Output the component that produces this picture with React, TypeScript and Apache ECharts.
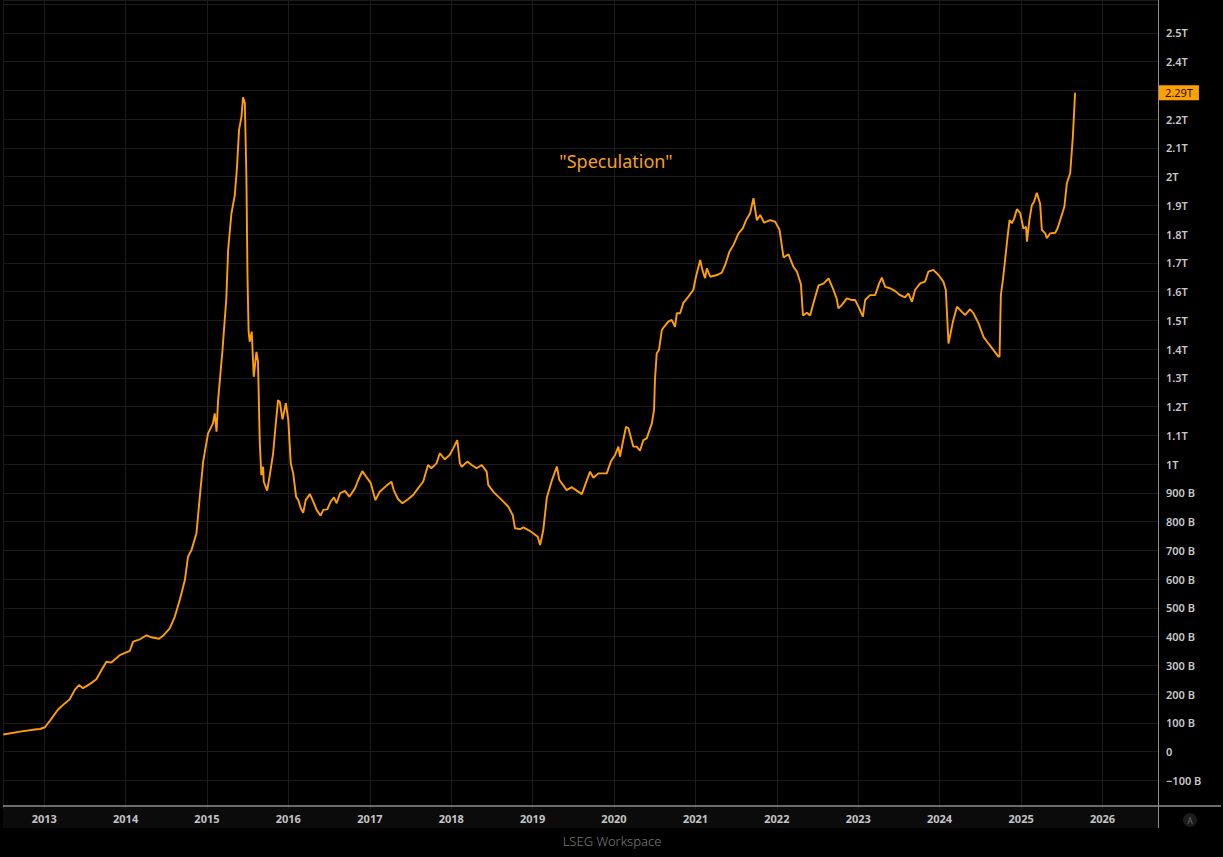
import React, { useEffect, useRef } from "react";
import * as echarts from "echarts";

const dates: string[] = [
  "2012-07-01","2012-09-14","2012-11-28","2012-12-13","2013-01-04","2013-01-27","2013-03-04","2013-04-03","2013-04-25","2013-05-18",
  "2013-06-06","2013-06-24","2013-07-24","2013-08-23","2013-09-15","2013-10-07","2013-10-29","2013-12-06","2014-01-20","2014-02-04",
  "2014-03-06","2014-04-05","2014-04-27","2014-05-31","2014-06-18","2014-07-18","2014-08-10","2014-09-01","2014-09-24","2014-10-08",
  "2014-10-24","2014-11-15","2014-11-30","2014-12-15","2015-01-06","2015-01-28","2015-02-05","2015-02-13","2015-02-20","2015-03-11",
  "2015-03-29","2015-04-06","2015-04-21","2015-05-06","2015-05-16","2015-05-25","2015-06-05","2015-06-12","2015-06-20","2015-06-27",
  "2015-07-02","2015-07-04","2015-07-07","2015-07-12","2015-07-21","2015-07-30","2015-08-11","2015-08-18","2015-08-26","2015-09-02",
  "2015-09-10","2015-09-13","2015-09-28","2015-10-10","2015-10-25","2015-11-06","2015-11-16","2015-11-24","2015-12-06","2015-12-21",
  "2016-01-01","2016-01-12","2016-01-23","2016-02-05","2016-02-15","2016-02-26","2016-03-08","2016-03-19","2016-04-07","2016-04-22",
  "2016-05-07","2016-05-25","2016-06-06","2016-06-24","2016-07-09","2016-07-24","2016-08-05","2016-08-20","2016-09-11","2016-10-01",
  "2016-10-26","2016-11-10","2016-11-28","2016-12-15","2017-01-04","2017-01-26","2017-02-14","2017-03-12","2017-03-24","2017-04-08",
  "2017-04-18","2017-05-07","2017-05-27","2017-06-21","2017-07-14","2017-08-05","2017-08-28","2017-09-19","2017-10-04","2017-10-27",
  "2017-11-11","2017-12-03","2017-12-25","2018-01-10","2018-01-28","2018-02-09","2018-02-17","2018-03-14","2018-04-03","2018-04-25",
  "2018-05-18","2018-06-09","2018-06-16","2018-07-09","2018-07-31","2018-08-23","2018-09-14","2018-10-04","2018-10-14","2018-11-06",
  "2018-11-21","2018-12-13","2019-01-04","2019-01-24","2019-02-04","2019-02-18","2019-03-06","2019-03-28","2019-04-20","2019-05-01",
  "2019-06-03","2019-06-26","2019-07-18","2019-08-10","2019-08-25","2019-09-16","2019-10-01","2019-10-23","2019-11-30","2019-12-18",
  "2020-01-06","2020-01-21","2020-01-28","2020-02-12","2020-02-24","2020-03-06","2020-03-28","2020-04-12","2020-04-27","2020-05-12",
  "2020-05-27","2020-06-19","2020-06-29","2020-07-03","2020-07-11","2020-07-21","2020-08-03","2020-08-13","2020-09-01","2020-09-16",
  "2020-10-01","2020-10-09","2020-10-24","2020-11-07","2020-11-30","2020-12-22","2021-01-03","2021-01-22","2021-02-01","2021-02-13",
  "2021-02-21","2021-03-08","2021-04-07","2021-04-29","2021-05-14","2021-06-02","2021-06-20","2021-07-13","2021-08-01","2021-08-16",
  "2021-09-03","2021-09-18","2021-10-03","2021-10-18","2021-11-05","2021-12-02","2021-12-24","2022-01-13","2022-01-31","2022-02-22",
  "2022-03-16","2022-04-01","2022-04-19","2022-04-28","2022-05-16","2022-05-30","2022-06-14","2022-07-07","2022-07-29","2022-08-21",
  "2022-09-12","2022-09-27","2022-10-04","2022-10-20","2022-11-11","2022-12-04","2022-12-18","2023-01-02","2023-01-22","2023-02-01",
  "2023-02-23","2023-03-18","2023-04-05","2023-04-17","2023-05-02","2023-05-24","2023-06-16","2023-07-08","2023-07-30","2023-08-14",
  "2023-08-30","2023-09-13","2023-10-06","2023-10-28","2023-11-12","2023-12-04","2023-12-27","2024-01-18","2024-01-29","2024-02-10",
  "2024-03-01","2024-03-19","2024-04-10","2024-04-25","2024-05-17","2024-06-01","2024-06-24","2024-07-16","2024-08-07","2024-08-30",
  "2024-09-21","2024-09-26","2024-10-02","2024-10-11","2024-10-21","2024-11-01","2024-11-10","2024-11-20","2024-12-01","2024-12-13",
  "2024-12-28","2025-01-11","2025-01-23","2025-01-27","2025-02-07","2025-02-18","2025-02-28","2025-03-12","2025-03-27","2025-04-04",
  "2025-04-19","2025-04-26","2025-05-11","2025-06-03","2025-06-13","2025-06-25","2025-07-07","2025-07-14","2025-07-25","2025-08-09",
  "2025-08-21","2025-08-31"
];

// values in billions
const valuesB: number[] = [
  60,70,78,79,85,108,147,168,182,215,
  232,221,235,252,284,313,310,336,351,383,
  391,405,398,393,403,429,470,528,597,678,
  702,760,887,1009,1107,1142,1177,1113,1223,1390,
  1577,1745,1873,1936,2035,2163,2209,2276,2256,2000,
  1652,1571,1461,1426,1461,1304,1391,1357,1078,962,
  991,939,908,962,1038,1142,1223,1217,1156,1212,
  1154,1003,968,887,875,847,831,875,896,870,
  841,821,841,843,870,885,864,899,907,887,
  916,945,976,957,936,875,904,922,930,939,
  910,879,864,878,893,916,939,997,986,1003,
  1038,1017,1032,1055,1084,1003,991,1009,997,986,
  997,974,928,904,887,870,852,823,777,774,
  780,771,760,748,719,771,884,942,992,945,
  910,920,908,896,928,974,953,968,968,1009,
  1032,1061,1026,1084,1130,1125,1061,1061,1047,1084,
  1090,1142,1189,1293,1386,1397,1467,1478,1496,1502,
  1478,1525,1525,1560,1583,1606,1652,1710,1675,1647,
  1681,1652,1658,1666,1693,1739,1762,1803,1820,1849,
  1873,1925,1849,1867,1840,1849,1844,1815,1719,1730,
  1687,1670,1626,1517,1527,1517,1560,1622,1628,1646,
  1606,1574,1542,1554,1577,1571,1571,1548,1513,1571,
  1588,1588,1629,1649,1617,1612,1602,1588,1580,1594,
  1565,1606,1629,1635,1670,1676,1658,1635,1606,1420,
  1496,1548,1530,1519,1539,1525,1490,1443,1420,1397,
  1374,1374,1588,1640,1710,1791,1849,1838,1855,1887,
  1873,1820,1826,1774,1849,1901,1913,1944,1907,1815,
  1803,1786,1803,1805,1820,1849,1878,1896,1977,2012,
  2139,2292
];

const annotation = '"Speculation"';
const footerText = "LSEG Workspace";
const xMin = "2012-06-30";
const xMax = "2026-09-07";
const yMin = -200;
const yMax = 2614.6;
const yStep = 100;

const lastValue = valuesB[valuesB.length - 1];

function fmtY(v: number): string {
  if (v > 2500 || v < -100) return "";
  // the last-value badge covers the tick label next to it
  if (Math.abs(v - lastValue) < 40) return "";
  if (v === 0) return "0";
  if (Math.abs(v) >= 1000) {
    const t = (v / 1000).toFixed(1).replace(/\.0$/, "");
    return t + "T";
  }
  if (v < 0) return "\u2212" + Math.abs(v) + " B";
  return v + " B";
}

export default function App() {
  const ref = useRef<HTMLDivElement>(null);
  useEffect(() => {
    if (!ref.current) return;
    const chart = echarts.init(ref.current, undefined, { renderer: "svg" });
    const seriesData = dates.map((d, i) => [d, valuesB[i]]);
    const nTicks = Math.ceil((yMax - yMin) / yStep) + 2;
    const splitColors = Array.from({ length: nTicks }, (_, i) => (i === 0 ? "rgba(0,0,0,0)" : "#1b1b1b"));
    const year = 365.25 * 24 * 3600 * 1000;
    chart.setOption({
      animation: false,
      backgroundColor: "#000000",
      grid: { left: 3, right: 65, top: 0, height: 809.2, containLabel: false },
      xAxis: {
        type: "time",
        min: xMin,
        max: xMax,
        splitNumber: 14,
        minInterval: year,
        maxInterval: year,
        axisLine: { show: false },
        axisTick: { show: false },
        splitLine: { show: true, lineStyle: { color: "#1b1b1b", width: 1 } },
        axisLabel: {
          color: "#c4c4c4",
          fontSize: 11,
          fontWeight: "bold",
          fontFamily: "Noto Sans",
          margin: 4,
          hideOverlap: false,
          formatter: (val: number) => String(new Date(val).getFullYear()),
        },
      },
      yAxis: {
        type: "value",
        position: "right",
        min: yMin,
        max: yMax,
        interval: yStep,
        axisLine: { show: false },
        axisTick: { show: false },
        splitLine: { show: true, lineStyle: { color: splitColors, width: 1 } },
        axisLabel: {
          color: "#c8c8c8",
          fontSize: 11,
          fontWeight: 600,
          fontFamily: "Noto Sans",
          margin: 8,
          formatter: fmtY,
        },
      },
      series: [
        {
          type: "line",
          data: seriesData,
          showSymbol: false,
          symbol: "none",
          lineStyle: { color: "#FFA000", width: 1.9 },
          itemStyle: { color: "#FFA000" },
          z: 3,
          markLine: {
            silent: true,
            symbol: "none",
            animation: false,
            lineStyle: { color: "rgba(0,0,0,0)", width: 0, type: "solid" },
            data: [{ yAxis: lastValue }],
            label: {
              show: true,
              position: "end",
              distance: 1,
              formatter: () => (lastValue / 1000).toFixed(2) + "T",
              backgroundColor: "#FFA000",
              color: "#111111",
              fontSize: 11,
              fontFamily: "Noto Sans",
              padding: [1, 6, 0, 6],
              lineHeight: 14,
            },
          },
        },
      ],
      graphic: [
        {
          type: "rect",
          z: -10,
          shape: { x: 3, y: 807, width: 1155, height: 21 },
          style: { fill: "#0b0b0b" },
          silent: true,
        },
        {
          type: "line",
          z: 10,
          shape: { x1: 3, y1: 806, x2: 1221, y2: 806 },
          style: { stroke: "#d6d6d6", lineWidth: 1 },
          silent: true,
        },
        {
          type: "line",
          z: 10,
          shape: { x1: 1158.5, y1: 0, x2: 1158.5, y2: 828 },
          style: { stroke: "#8c8c8c", lineWidth: 1 },
          silent: true,
        },
        {
          type: "circle",
          z: 10,
          shape: { cx: 1190, cy: 820, r: 7 },
          style: { fill: "#1c1c1c" },
          silent: true,
        },
        {
          type: "text",
          z: 11,
          x: 1190,
          y: 820,
          style: {
            text: "A",
            fill: "#6a6a6a",
            fontSize: 8,
            fontFamily: "Noto Sans",
            align: "center",
            verticalAlign: "middle",
          },
          silent: true,
        },
        {
          type: "text",
          z: 10,
          x: 616,
          y: 161,
          style: {
            text: annotation,
            fill: "#F5A020",
            fontSize: 18,
            fontFamily: "Noto Sans",
            align: "center",
            verticalAlign: "middle",
          },
          silent: true,
        },
        {
          type: "text",
          z: 10,
          x: 612,
          y: 841,
          style: {
            text: footerText,
            fill: "#7c7c7c",
            fontSize: 13,
            fontFamily: "Noto Sans",
            fontWeight: 300,
            align: "center",
            verticalAlign: "middle",
          },
          silent: true,
        },
      ],
    });
    return () => chart.dispose();
  }, []);
  return (
    <div
      ref={ref}
      style={{ position: "fixed", left: 0, top: 0, width: 1223, height: 857, background: "#000" }}
    />
  );
}
